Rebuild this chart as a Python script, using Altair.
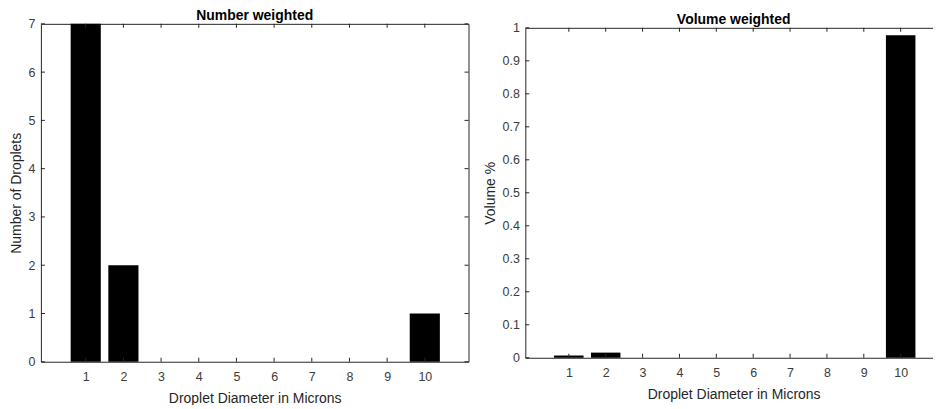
import altair as alt
import pandas as pd

# ---- data ----
diameters = [1, 2, 3, 4, 5, 6, 7, 8, 9, 10]
number_counts = [7, 2, 0, 0, 0, 0, 0, 0, 0, 1]
volume_fraction = [0.0068, 0.0156, 0, 0, 0, 0, 0, 0, 0, 0.9775]

x_tick_values = [1, 2, 3, 4, 5, 6, 7, 8, 9, 10]
left_y_ticks = [0, 1, 2, 3, 4, 5, 6, 7]
right_y_ticks = [0, 0.1, 0.2, 0.3, 0.4, 0.5, 0.6, 0.7, 0.8, 0.9, 1.0]

FONT = "Liberation Sans"
AXIS_COLOR = "#262626"
LABEL_COLOR = "#3c3c3c"
TICK_LEN = 4


def panel(values, title, ytitle, ydomain, yticks, xdomain, w, h, draw_right=True):
    df = pd.DataFrame({"d": diameters, "v": values})
    xs = alt.Scale(domain=xdomain, nice=False, zero=False)
    ys = alt.Scale(domain=ydomain, nice=False, zero=True)
    x_axis = alt.Axis(values=x_tick_values, title="Droplet Diameter in Microns",
                      labelPadding=9, titlePadding=8.5, labelOverlap=False)
    y_axis = alt.Axis(values=yticks, title=ytitle, format="~g",
                      labelPadding=6, titlePadding=5, labelOverlap=False)

    bars = (
        alt.Chart(df)
        .transform_calculate(lo="datum.d - 0.4", hi="datum.d + 0.4")
        .mark_bar(color="black", strokeWidth=0)
        .encode(
            x=alt.X("lo:Q", scale=xs, axis=x_axis),
            x2="hi:Q",
            y=alt.Y("v:Q", scale=ys, axis=y_axis),
            y2=alt.Y2(datum=0),
        )
    )

    xt = pd.DataFrame({"t": x_tick_values})
    yt = pd.DataFrame({"t": yticks})
    tick_style = dict(size=TICK_LEN, thickness=1, color=AXIS_COLOR, opacity=1)
    bottom = alt.Chart(xt).mark_tick(orient="vertical", **tick_style).encode(
        x=alt.X("t:Q", scale=xs, axis=x_axis), y=alt.value(h - TICK_LEN / 2))
    top = alt.Chart(xt).mark_tick(orient="vertical", **tick_style).encode(
        x=alt.X("t:Q", scale=xs, axis=x_axis), y=alt.value(TICK_LEN / 2))
    left = alt.Chart(yt).mark_tick(orient="horizontal", **tick_style).encode(
        y=alt.Y("t:Q", scale=ys, axis=y_axis), x=alt.value(TICK_LEN / 2))
    layers = [bars, bottom, top, left]
    if draw_right:
        right = alt.Chart(yt).mark_tick(orient="horizontal", **tick_style).encode(
            y=alt.Y("t:Q", scale=ys, axis=y_axis), x=alt.value(w - TICK_LEN / 2))
        layers.append(right)

    return alt.layer(*layers).properties(
        width=w, height=h,
        title=alt.TitleParams(title, anchor="middle", fontSize=14, fontWeight="bold",
                              color="black", font=FONT, offset=-5),
    )


left_panel = panel(number_counts, "Number weighted", "Number of Droplets",
                   [0, 7], left_y_ticks, [-0.19, 11.16], 429, 339)
right_panel = panel(volume_fraction, "Volume weighted", "Volume %",
                    [0, 1], right_y_ticks, [-0.18, 11.12], 418, 331, draw_right=False)

chart = (
    alt.hconcat(left_panel, right_panel, spacing=13, center=True)
    .properties(padding={"left": 0, "top": -1, "right": -10, "bottom": -2}, background="white")
    .configure_view(stroke=AXIS_COLOR, strokeWidth=1)
    .configure_axis(
        grid=False, ticks=False, domain=False, tickSize=0,
        labelFont=FONT, labelFontSize=12.5, labelColor=LABEL_COLOR,
        titleFont=FONT, titleFontSize=14, titleFontWeight="normal", titleColor=AXIS_COLOR,
    )
)

chart.save("out.html", embed_options={"renderer": "svg", "actions": False})
